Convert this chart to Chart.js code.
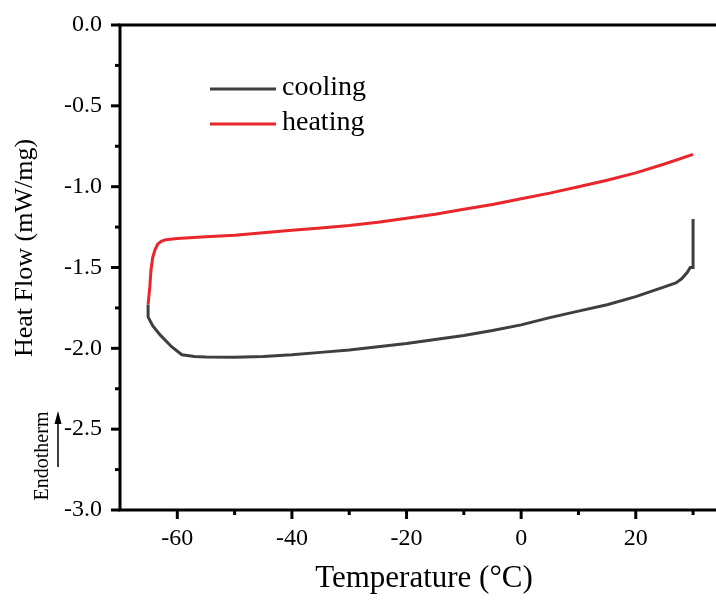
<!DOCTYPE html>
<html>
<head>
<meta charset="utf-8">
<script src="https://cdn.jsdelivr.net/npm/chart.js@4/dist/chart.umd.min.js"></script>
<style>
  html, body { margin: 0; padding: 0; background: #fff; overflow: hidden; }
  #wrap { width: 716px; height: 603px; }
</style>
</head>
<body>
<div id="wrap"><canvas id="dscChart" width="716" height="603"></canvas></div>
<script>
// DSC 曲線：冷卻 / 加熱
const coolingTemp = [30.0, 30.0, 29.5, 29.0, 28.0, 27.0, 25.0, 20.0, 15.0, 10.0, 5.0, 0.0, -5.0, -10.0, -15.0, -20.0, -25.0, -30.0, -35.0, -40.0, -45.0, -50.0, -55.0, -57.0, -59.2, -61.0, -63.0, -64.3, -65.1, -65.1];
const coolingFlow = [-1.20, -1.50, -1.50, -1.53, -1.57, -1.595, -1.62, -1.68, -1.73, -1.77, -1.81, -1.855, -1.89, -1.92, -1.945, -1.97, -1.99, -2.01, -2.025, -2.04, -2.05, -2.055, -2.053, -2.05, -2.04, -1.99, -1.917, -1.86, -1.806, -1.73];

const heatingTemp = [-65.1, -64.8, -64.6, -64.3, -63.9, -63.4, -62.8, -62.0, -60.0, -55.0, -50.0, -45.0, -40.0, -35.0, -30.0, -25.0, -20.0, -15.0, -10.0, -5.0, 0.0, 5.0, 10.0, 15.0, 20.0, 25.0, 30.0];
const heatingFlow = [-1.73, -1.62, -1.52, -1.44, -1.39, -1.355, -1.338, -1.328, -1.32, -1.31, -1.30, -1.285, -1.27, -1.255, -1.24, -1.22, -1.195, -1.17, -1.14, -1.11, -1.075, -1.04, -1.00, -0.96, -0.915, -0.86, -0.80];

const seriesLabels = ['cooling', 'heating'];
const seriesColors = ['#3f3f3f', '#e8262c'];

const xMin = -70, xMax = 34;
const yMin = -3, yMax = 0;

const xTitle = 'Temperature (°C)';
const yTitle = 'Heat Flow (mW/mg)';

const SERIF = '"Liberation Serif", "DejaVu Serif", serif';

function toPoints(xs, ys) {
  return xs.map((x, i) => ({ x: x, y: ys[i] }));
}

// 軸線、刻度、標題、圖例與 Endotherm 標記
const framePlugin = {
  id: 'frame',
  afterDraw(chart) {
    const ctx = chart.ctx;
    const area = chart.chartArea;
    const xs = chart.scales.x;
    const ys = chart.scales.y;

    ctx.save();
    ctx.strokeStyle = '#000';
    ctx.lineWidth = 3;
    ctx.lineCap = 'butt';

    ctx.beginPath();
    ctx.moveTo(area.left, area.top);
    ctx.lineTo(area.right + 2, area.top);
    ctx.moveTo(area.left, area.top - 1.5);
    ctx.lineTo(area.left, area.bottom + 1.5);
    ctx.moveTo(area.left - 1.5, area.bottom);
    ctx.lineTo(area.right + 2, area.bottom);
    ctx.stroke();

    ys.ticks.forEach(t => {
      const py = ys.getPixelForValue(t.value);
      const len = t.label !== '' ? 9 : 5;
      ctx.beginPath();
      ctx.moveTo(area.left, py);
      ctx.lineTo(area.left - len, py);
      ctx.stroke();
    });
    xs.ticks.forEach(t => {
      if (t.value <= xMin) return;
      const px = xs.getPixelForValue(t.value);
      const len = t.label !== '' ? 9 : 5;
      ctx.beginPath();
      ctx.moveTo(px, area.bottom);
      ctx.lineTo(px, area.bottom + len);
      ctx.stroke();
    });

    // 軸標題
    ctx.fillStyle = '#000';
    ctx.textAlign = 'center';
    ctx.textBaseline = 'middle';
    ctx.font = '31px ' + SERIF;
    ctx.fillText(xTitle, 424, 579);

    ctx.save();
    ctx.translate(25, 248);
    ctx.rotate(-Math.PI / 2);
    ctx.font = '26px ' + SERIF;
    ctx.fillText(yTitle, 0, 0);
    ctx.restore();

    // 圖例
    ctx.font = '28px ' + SERIF;
    ctx.textBaseline = 'middle';
    ctx.textAlign = 'left';
    chart.data.datasets.forEach((ds, i) => {
      const ly = 89 + i * 35;
      ctx.strokeStyle = ds.borderColor;
      ctx.lineWidth = 3;
      ctx.beginPath();
      ctx.moveTo(210, ly);
      ctx.lineTo(276, ly);
      ctx.stroke();
      ctx.fillStyle = '#000';
      ctx.fillText(ds.label, 282, ly - 1);
    });

    // Endotherm 標記
    ctx.save();
    ctx.translate(48, 456);
    ctx.rotate(-Math.PI / 2);
    ctx.font = '20px ' + SERIF;
    ctx.fillStyle = '#000';
    ctx.textAlign = 'center';
    ctx.textBaseline = 'alphabetic';
    ctx.fillText('Endotherm', 0, 0);
    ctx.restore();

    ctx.strokeStyle = '#000';
    ctx.lineWidth = 1.5;
    ctx.beginPath();
    ctx.moveTo(58, 467);
    ctx.lineTo(58, 420);
    ctx.stroke();
    ctx.fillStyle = '#000';
    ctx.beginPath();
    ctx.moveTo(58, 411);
    ctx.lineTo(54.5, 424);
    ctx.lineTo(61.5, 424);
    ctx.closePath();
    ctx.fill();

    ctx.restore();
  }
};

const ctx = document.getElementById('dscChart').getContext('2d');

const chart = new Chart(ctx, {
  type: 'scatter',
  data: {
    datasets: [
      {
        label: seriesLabels[0],
        data: toPoints(coolingTemp, coolingFlow),
        showLine: true,
        borderColor: seriesColors[0],
        backgroundColor: seriesColors[0],
        borderWidth: 3,
        pointRadius: 0,
        tension: 0
      },
      {
        label: seriesLabels[1],
        data: toPoints(heatingTemp, heatingFlow),
        showLine: true,
        borderColor: seriesColors[1],
        backgroundColor: seriesColors[1],
        borderWidth: 3,
        pointRadius: 0,
        tension: 0
      }
    ]
  },
  options: {
    responsive: false,
    animation: false,
    layout: {
      padding: { top: 25, right: 0, left: 0, bottom: 0 }
    },
    plugins: {
      legend: { display: false },
      tooltip: { enabled: false }
    },
    scales: {
      x: {
        type: 'linear',
        min: xMin,
        max: xMax,
        afterFit: function(scale) { scale.height = 93; },
        grid: { display: false },
        border: { display: false },
        ticks: {
          stepSize: 10,
          includeBounds: false,
          autoSkip: false,
          maxRotation: 0,
          padding: 6,
          color: '#000',
          font: { family: SERIF, size: 24 },
          callback: function(value) {
            return (value % 20 === 0) ? String(value) : '';
          }
        }
      },
      y: {
        type: 'linear',
        min: yMin,
        max: yMax,
        afterFit: function(scale) { scale.width = 120; },
        grid: { display: false },
        border: { display: false },
        ticks: {
          stepSize: 0.25,
          autoSkip: false,
          padding: 10,
          color: '#000',
          font: { family: SERIF, size: 24 },
          callback: function(value) {
            const q = Math.round(value * 4);
            return (q % 2 === 0) ? (q / 4).toFixed(1) : '';
          }
        }
      }
    }
  },
  plugins: [framePlugin]
});
</script>
</body>
</html>
